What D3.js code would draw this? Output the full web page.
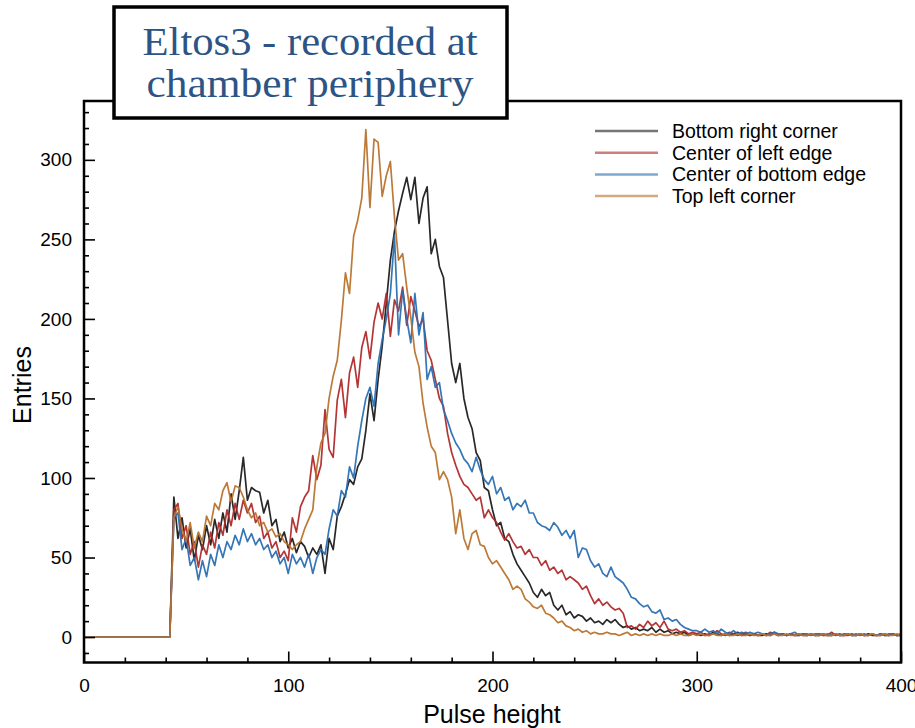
<!DOCTYPE html>
<html>
<head>
<meta charset="utf-8">
<script src="https://cdn.jsdelivr.net/npm/d3@7"></script>
<style>
  html, body { margin: 0; padding: 0; background: #fff; }
  svg { display: block; }
</style>
</head>
<body>
<svg id="chart" width="915" height="728"></svg>
<script>
// ---------------- DATA ----------------
const titleLines = ["Eltos3 - recorded at", "chamber periphery"];
const xLabel = "Pulse height";
const yLabel = "Entries";
const xTicks = [0, 100, 200, 300, 400];
const yTicks = [0, 50, 100, 150, 200, 250, 300];
const seriesNames = ["Bottom right corner", "Center of left edge", "Center of bottom edge", "Top left corner"];
const binWidth = 2; // pulse-height bins: 0, 2, 4, ... 400

const bottomRight = [
  0,0,0,0,0,0,0,0,0,0,            // 0
  0,0,0,0,0,0,0,0,0,0,            // 20
  0,0,88,62,75,56,68,48,64,55,    // 40
  70,58,74,62,78,66,90,74,92,113, // 60
  86,94,92,91,78,86,70,74,60,66,  // 80
  56,62,53,60,57,50,56,52,58,40,  // 100
  62,55,76,82,90,99,96,107,112,130, // 120
  153,136,162,183,210,237,255,268,279,289, // 140
  275,289,260,276,283,241,250,233,226,199, // 160
  172,160,172,150,138,131,116,111,94,92,   // 180
  80,70,72,62,60,52,46,42,38,34,  // 200
  28,25,30,26,28,20,17,20,14,16,  // 220
  12,14,13,10,12,9,10,8,11,9,     // 240
  11,8,6,7,5,6,4,5,4,6,           // 260
  3,5,3,4,2,3,2,3,1,2,            // 280
  2,1,2,1,3,2,1,2,1,2,            // 300
  3,1,2,1,2,1,1,2,1,3,            // 320
  1,2,1,2,1,1,2,1,2,1,            // 340
  1,2,1,1,2,1,1,2,1,1,            // 360
  2,1,2,1,1,2,1,1,2,1,            // 380
  2                               // 400
];
const leftEdge = [
  0,0,0,0,0,0,0,0,0,0,
  0,0,0,0,0,0,0,0,0,0,
  0,0,80,84,62,70,52,60,44,58,
  52,66,56,72,64,80,70,84,74,86,
  78,84,72,76,62,66,56,60,50,54,
  48,75,66,82,88,92,114,99,108,143,
  118,113,149,162,138,166,176,157,182,192,
  175,198,210,200,216,189,212,205,220,196,
  214,205,195,200,180,174,162,150,145,128,
  116,108,101,96,94,90,86,88,75,80,
  75,72,66,61,65,60,56,57,52,55,
  50,50,45,48,42,44,40,42,36,38,
  36,34,30,32,26,21,24,20,22,19,
  17,18,15,6,7,5,8,6,10,7,
  9,6,10,5,4,5,3,4,2,3,
  2,3,1,2,2,4,2,1,3,2,
  1,2,3,1,2,1,2,1,3,2,
  1,2,1,2,1,2,1,1,2,1,
  2,1,1,3,1,2,1,1,2,1,
  2,1,1,2,1,1,2,1,2,1,
  1
];
const bottomEdge = [
  0,0,0,0,0,0,0,0,0,0,
  0,0,0,0,0,0,0,0,0,0,
  0,0,75,78,55,62,45,50,36,48,
  38,52,45,58,50,60,55,64,58,68,
  60,65,58,62,55,58,50,54,46,50,
  40,52,46,50,44,52,40,50,55,52,
  68,80,76,92,88,107,100,120,136,150,
  157,145,172,187,200,216,252,190,218,200,
  185,216,190,204,162,170,157,160,143,136,
  128,122,118,112,109,104,113,105,99,96,
  101,90,94,86,88,80,84,82,86,78,
  78,72,70,69,67,72,69,64,67,62,
  67,50,56,55,48,44,46,40,38,44,
  38,36,34,30,25,24,21,19,20,16,
  15,17,11,12,10,11,8,6,5,4,
  4,3,5,3,4,2,5,3,2,4,
  2,3,2,3,2,3,2,1,2,3,
  2,2,1,2,3,1,2,2,1,2,
  2,1,2,1,2,1,2,2,1,2,
  1,2,1,2,1,2,1,2,2,1,
  1
];
const topLeft = [
  0,0,0,0,0,0,0,0,0,0,
  0,0,0,0,0,0,0,0,0,0,
  0,0,75,82,68,60,72,56,66,60,
  76,70,84,80,92,97,85,95,94,88,
  80,75,78,70,72,66,68,63,65,60,
  58,55,58,60,68,74,80,107,122,128,
  150,164,174,199,229,216,252,262,276,319,
  270,313,311,277,290,299,264,237,241,220,
  201,179,170,147,132,120,116,99,104,99,
  88,65,80,62,55,65,67,58,57,50,
  46,48,44,40,36,30,32,30,24,22,
  19,18,20,15,14,12,9,10,7,6,
  4,5,3,4,2,3,2,2,3,2,
  2,1,2,3,1,2,1,2,1,2,
  1,2,1,1,2,1,2,1,1,2,
  1,2,1,1,2,1,1,2,1,1,
  2,1,1,2,1,1,2,1,1,2,
  1,1,2,1,1,2,1,1,2,1,
  1,2,1,1,2,1,1,2,1,1,
  2,1,1,2,1,1,2,1,1,2,
  1
];
const seriesValues = [bottomRight, leftEdge, bottomEdge, topLeft];
const seriesColors = ["#1c1c1c", "#b02a2a", "#2a6fb2", "#b8732e"];

// ---------------- LAYOUT ----------------
const svg = d3.select("#chart");
const plot = { left: 84, right: 901, top: 101, bottom: 662.5 };

const x = d3.scaleLinear().domain([0, 400]).range([plot.left, plot.right]);
const y = d3.scaleLinear().domain([-16, 337]).range([plot.bottom, plot.top]);

svg.append("clipPath").attr("id", "clip")
  .append("rect")
  .attr("x", plot.left).attr("y", plot.top)
  .attr("width", plot.right - plot.left).attr("height", plot.bottom - plot.top);

const line = d3.line()
  .x((d, i) => x(i * binWidth))
  .y(d => y(d));

const gLines = svg.append("g").attr("clip-path", "url(#clip)");
seriesValues.forEach((vals, k) => {
  gLines.append("path")
    .datum(vals)
    .attr("d", line)
    .attr("fill", "none")
    .attr("stroke", seriesColors[k])
    .attr("stroke-width", 1.7)
    .attr("stroke-linejoin", "round")
    .attr("opacity", 0.95);
});

const axisFont = "'Liberation Sans', Arial, Helvetica, sans-serif";

const yMinor = d3.range(-10, 337, 10).filter(v => v % 50 !== 0);
const xMinor = d3.range(20, 400, 20).filter(v => v % 100 !== 0);

function styleAxis(g) {
  g.select(".domain").remove();
  g.selectAll(".tick line").attr("stroke", "#000").attr("stroke-width", 1.6);
  g.selectAll("text").attr("font-family", axisFont).attr("font-size", 19).attr("fill", "#000");
}

svg.append("g")
  .attr("transform", `translate(${plot.left},0)`)
  .call(d3.axisLeft(y).tickValues(yTicks).tickSize(-11).tickPadding(12).tickFormat(d3.format("d")))
  .call(styleAxis);
svg.append("g")
  .attr("transform", `translate(${plot.left},0)`)
  .call(d3.axisLeft(y).tickValues(yMinor).tickSize(-5).tickFormat(""))
  .call(styleAxis);

svg.append("g")
  .attr("transform", `translate(0,${plot.bottom})`)
  .call(d3.axisBottom(x).tickValues(xTicks).tickSize(-11).tickPadding(16).tickFormat(d3.format("d")))
  .call(styleAxis);
svg.append("g")
  .attr("transform", `translate(0,${plot.bottom})`)
  .call(d3.axisBottom(x).tickValues(xMinor).tickSize(-5).tickFormat(""))
  .call(styleAxis);

svg.append("rect")
  .attr("x", plot.left).attr("y", plot.top)
  .attr("width", plot.right - plot.left).attr("height", plot.bottom - plot.top)
  .attr("fill", "none").attr("stroke", "#000").attr("stroke-width", 2.5);

svg.append("text")
  .attr("x", 492).attr("y", 723)
  .attr("text-anchor", "middle")
  .attr("font-family", axisFont).attr("font-size", 25)
  .text(xLabel);
svg.append("text")
  .attr("transform", `translate(31,385) rotate(-90)`)
  .attr("text-anchor", "middle")
  .attr("font-family", axisFont).attr("font-size", 25)
  .text(yLabel);

const legend = svg.append("g");
seriesNames.forEach((name, k) => {
  const ly = 131 + k * 21.7;
  legend.append("line")
    .attr("x1", 595).attr("x2", 658).attr("y1", ly).attr("y2", ly)
    .attr("stroke", seriesColors[k]).attr("stroke-width", 2.5).attr("opacity", 0.6);
  legend.append("text")
    .attr("x", 672).attr("y", ly).attr("dy", "0.35em")
    .attr("font-family", axisFont).attr("font-size", 19.5)
    .text(name);
});

svg.append("rect")
  .attr("x", 114).attr("y", 7).attr("width", 393).attr("height", 111)
  .attr("fill", "#fff").attr("stroke", "#000").attr("stroke-width", 3.5);
const titleWidths = [335, 327];
titleLines.forEach((t, i) => {
  svg.append("text")
    .attr("x", 310).attr("y", 55 + i * 42)
    .attr("text-anchor", "middle")
    .attr("font-family", "'Liberation Serif', 'Times New Roman', serif")
    .attr("font-size", 41)
    .attr("fill", "#2c5485")
    .attr("textLength", titleWidths[i])
    .attr("lengthAdjust", "spacingAndGlyphs")
    .text(t);
});
</script>
</body>
</html>
